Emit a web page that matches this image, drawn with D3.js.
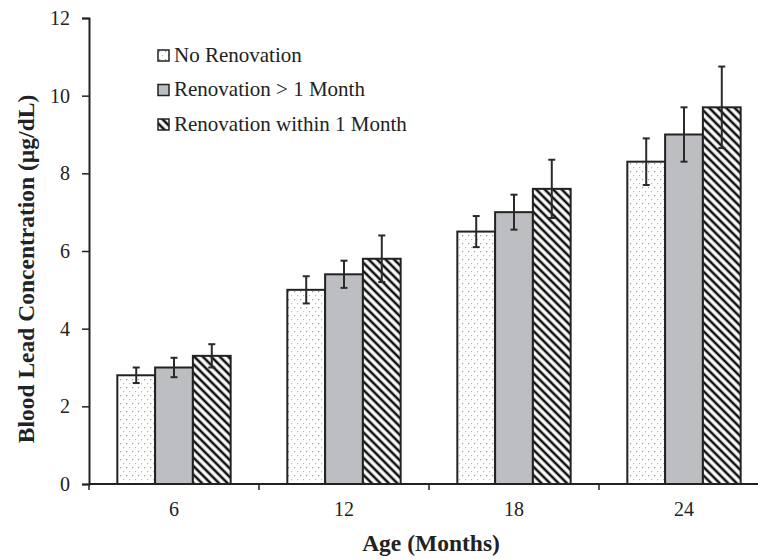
<!DOCTYPE html>
<html>
<head>
<meta charset="utf-8">
<script src="https://cdn.jsdelivr.net/npm/d3@7"></script>
<style>
  body { margin: 0; background: #fff; overflow: hidden; }
  svg { display: block; font-family: "Liberation Serif", "Times New Roman", serif; }
</style>
</head>
<body>
<div id="plot"></div>
<script>
// chart data
const ages = ["6", "12", "18", "24"];
const seriesNames = ["No Renovation", "Renovation > 1 Month", "Renovation within 1 Month"];
const noRenovation = [2.8, 5.0, 6.5, 8.3];
const noRenovationErr = [0.2, 0.35, 0.4, 0.6];
const renovationOver1 = [3.0, 5.4, 7.0, 9.0];
const renovationOver1Err = [0.25, 0.35, 0.45, 0.7];
const renovationWithin1 = [3.3, 5.8, 7.6, 9.7];
const renovationWithin1Err = [0.3, 0.6, 0.75, 1.05];
const yTicks = [0, 2, 4, 6, 8, 10, 12];

const width = 758, height = 559;
// the plot area runs a little past the right edge, as in the original figure
const margin = { top: 18, right: -11, bottom: 75, left: 89 };
const innerWidth = width - margin.left - margin.right;
const innerHeight = height - margin.top - margin.bottom;
const visibleWidth = width - margin.left;

const svg = d3.select("#plot").append("svg")
    .attr("width", width)
    .attr("height", height);

// fill patterns
const defs = svg.append("defs");
const dots = defs.append("pattern")
    .attr("id", "dots")
    .attr("patternUnits", "userSpaceOnUse")
    .attr("width", 6).attr("height", 8);
dots.append("rect").attr("width", 6).attr("height", 8).attr("fill", "#fff");
dots.append("rect").attr("x", 1).attr("y", 1).attr("width", 1.2).attr("height", 1.2).attr("fill", "#999");
dots.append("rect").attr("x", 4).attr("y", 5).attr("width", 1.2).attr("height", 1.2).attr("fill", "#bbb");

const hatch = defs.append("pattern")
    .attr("id", "hatch")
    .attr("patternUnits", "userSpaceOnUse")
    .attr("width", 6).attr("height", 6)
    .attr("patternTransform", "rotate(45)");
hatch.append("rect").attr("width", 6).attr("height", 6).attr("fill", "#fff");
hatch.append("line")
    .attr("x1", 0).attr("y1", 3).attr("x2", 6).attr("y2", 3)
    .attr("stroke", "#111").attr("stroke-width", 2.6);

const fills = ["url(#dots)", "#bdbec2", "url(#hatch)"];

const g = svg.append("g").attr("transform", `translate(${margin.left},${margin.top})`);

const x0 = d3.scaleBand()
    .domain(ages)
    .range([0, innerWidth])
    .paddingInner(1 / 3)
    .paddingOuter(1 / 6);

const x1 = d3.scaleBand()
    .domain(d3.range(3))
    .range([0, x0.bandwidth()]);

const y = d3.scaleLinear()
    .domain([0, 12])
    .range([innerHeight, 0]);

const values = [noRenovation, renovationOver1, renovationWithin1];
const errors = [noRenovationErr, renovationOver1Err, renovationWithin1Err];

const rows = [];
ages.forEach((a, i) => {
    values.forEach((vals, s) => {
        rows.push({ age: a, s: s, v: vals[i], e: errors[s][i] });
    });
});

// bars
g.selectAll(".bar")
    .data(rows)
    .enter()
    .append("rect")
    .attr("class", "bar")
    .attr("x", d => x0(d.age) + x1(d.s))
    .attr("y", d => y(d.v))
    .attr("width", x1.bandwidth())
    .attr("height", d => y(0) - y(d.v))
    .attr("fill", d => fills[d.s])
    .attr("stroke", "#222")
    .attr("stroke-width", 2);

// error bars
const err = g.selectAll(".err")
    .data(rows)
    .enter()
    .append("g")
    .attr("class", "err")
    .attr("stroke", "#2a2a2a")
    .attr("stroke-width", 2);

err.append("line")
    .attr("x1", d => x0(d.age) + x1(d.s) + x1.bandwidth() / 2)
    .attr("x2", d => x0(d.age) + x1(d.s) + x1.bandwidth() / 2)
    .attr("y1", d => y(d.v + d.e))
    .attr("y2", d => y(d.v - d.e));

[1, -1].forEach(sign => {
    err.append("line")
        .attr("x1", d => x0(d.age) + x1(d.s) + x1.bandwidth() / 2 - 3.5)
        .attr("x2", d => x0(d.age) + x1(d.s) + x1.bandwidth() / 2 + 3.5)
        .attr("y1", d => y(d.v + sign * d.e))
        .attr("y2", d => y(d.v + sign * d.e));
});

// y axis
const yAxis = g.append("g")
    .call(d3.axisLeft(y).tickValues(yTicks).tickSize(7).tickPadding(12));
yAxis.select(".domain").attr("stroke", "#222").attr("stroke-width", 2);
yAxis.selectAll(".tick line").attr("stroke", "#222").attr("stroke-width", 1.5);
yAxis.selectAll(".tick text")
    .attr("font-size", 20)
    .attr("fill", "#222")
    .attr("font-family", "Liberation Serif");

// x axis: ticks at category boundaries (only the visible ones)
const boundaries = ages.map(a => x0(a) - x0.step() * x0.paddingInner() / 2);
const xAxis = g.append("g").attr("transform", `translate(0,${innerHeight})`);
xAxis.append("line")
    .attr("x1", 0).attr("x2", visibleWidth)
    .attr("stroke", "#222").attr("stroke-width", 2);
xAxis.selectAll(".xtick")
    .data(boundaries)
    .enter()
    .append("line")
    .attr("class", "xtick")
    .attr("x1", d => d).attr("x2", d => d)
    .attr("y1", 0).attr("y2", 6)
    .attr("stroke", "#222").attr("stroke-width", 1.5);
xAxis.selectAll(".xlabel")
    .data(ages)
    .enter()
    .append("text")
    .attr("class", "xlabel")
    .attr("x", d => x0(d) + x0.bandwidth() / 2)
    .attr("y", 32)
    .attr("text-anchor", "middle")
    .attr("font-size", 20)
    .attr("fill", "#222")
    .text(d => d);

// axis titles
svg.append("text")
    .attr("x", 431)
    .attr("y", 551)
    .attr("text-anchor", "middle")
    .attr("font-size", 23.5)
    .attr("font-weight", "bold")
    .attr("fill", "#222")
    .text("Age (Months)");

svg.append("text")
    .attr("transform", "translate(34,269) rotate(-90)")
    .attr("text-anchor", "middle")
    .attr("font-size", 23.5)
    .attr("font-weight", "bold")
    .attr("fill", "#222")
    .text("Blood Lead Concentration (µg/dL)");

// legend
const legend = svg.append("g").attr("transform", "translate(158,50)");
const item = legend.selectAll(".item")
    .data(seriesNames)
    .enter()
    .append("g")
    .attr("class", "item")
    .attr("transform", (d, i) => `translate(0,${i * 34.5})`);
item.append("rect")
    .attr("width", 11).attr("height", 11)
    .attr("fill", (d, i) => fills[i])
    .attr("stroke", "#222")
    .attr("stroke-width", 1.5);
item.append("text")
    .attr("x", 16)
    .attr("y", 11.5)
    .attr("font-size", 21)
    .attr("fill", "#222")
    .text(d => d);
</script>
</body>
</html>
